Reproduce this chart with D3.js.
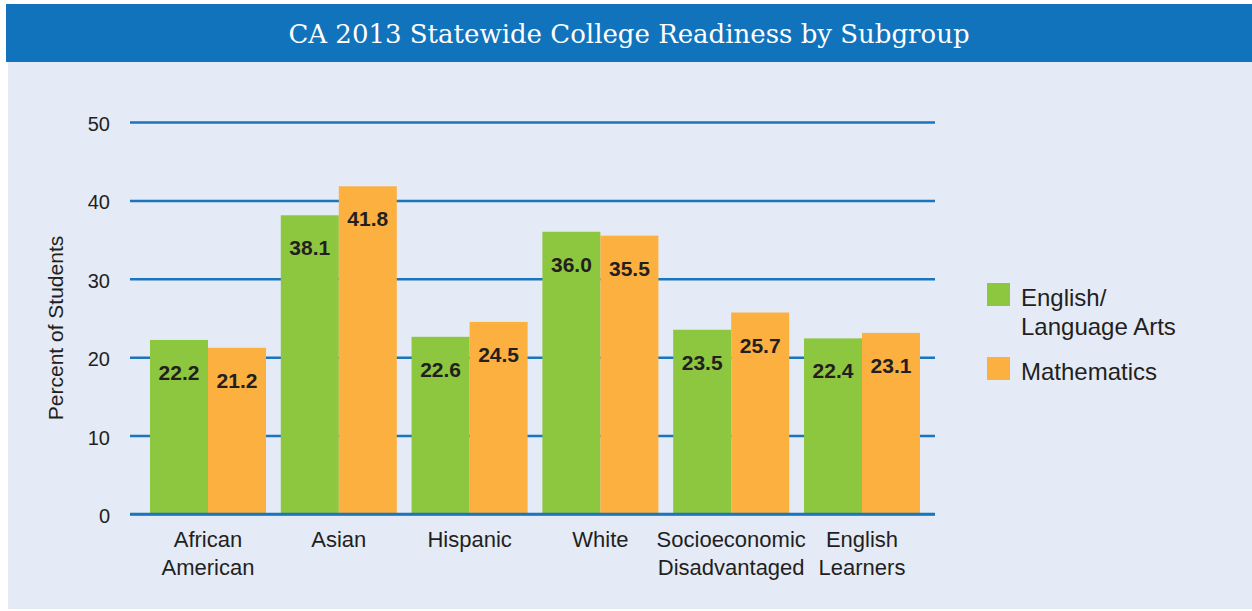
<!DOCTYPE html>
<html>
<head>
<meta charset="utf-8">
<script src="https://cdn.jsdelivr.net/npm/d3@7"></script>
<style>
  body { margin: 0; background: #fff; }
  svg text { font-family: "Liberation Sans", Arial, Helvetica, sans-serif; fill: #231f20; }
</style>
</head>
<body>
<div id="chart"></div>
<script>
// chart data
var categories = [["African", "American"], ["Asian"], ["Hispanic"], ["White"], ["Socioeconomic", "Disadvantaged"], ["English", "Learners"]];
var series = ["English/Language Arts", "Mathematics"];
var elaValues = [22.2, 38.1, 22.6, 36.0, 23.5, 22.4];
var mathValues = [21.2, 41.8, 24.5, 35.5, 25.7, 23.1];
var yTicks = [0, 10, 20, 30, 40, 50];
var legendLabels = [["English/", "Language Arts"], ["Mathematics"]];
var colors = ["#8dc63f", "#fbb040"];

var W = 1252, H = 611;
var svg = d3.select("#chart").append("svg")
    .attr("width", W)
    .attr("height", H);

// panel + header band
svg.append("rect").attr("x", 8).attr("y", 62).attr("width", W - 8).attr("height", 547).style("fill", "#e4eaf6");
svg.append("rect").attr("x", 6).attr("y", 4).attr("width", W - 6).attr("height", 58).style("fill", "#1173bb");
svg.append("text")
    .attr("x", 629)
    .attr("y", 43)
    .style("text-anchor", "middle")
    .style("font-family", "'DejaVu Serif', serif")
    .style("font-size", "26px")
    .style("fill", "#fff")
    .text("CA 2013 Statewide College Readiness by Subgroup");

var keys = categories.map(function (c) { return c.join(" "); });
var yScale = d3.scaleLinear().domain([0, 50]).range([514, 122]);
var x0 = d3.scaleBand().domain(keys).range([142.6, 927.4]).paddingInner(0.113).paddingOuter(0.0565);
var x1 = d3.scaleBand().domain([0, 1]).range([0, x0.bandwidth()]);

// gridlines
var yAxis = svg.append("g")
    .attr("class", "axis axis-y")
    .attr("transform", "translate(130,0)")
    .call(d3.axisLeft(yScale).tickValues(yTicks).tickSize(-805).tickPadding(20).tickFormat(d3.format("d")));
yAxis.select(".domain").remove();
yAxis.selectAll(".tick line").style("stroke", "#1a75bc").style("stroke-width", 2.5);
yAxis.selectAll(".tick text")
    .attr("dy", "0.42em")
    .style("font-size", "20px")
    .style("font-family", "'Liberation Sans', Arial, sans-serif")
    .style("fill", "#231f20");

svg.append("text")
    .attr("transform", "translate(63,328) rotate(-90)")
    .style("text-anchor", "middle")
    .style("font-size", "21px")
    .text("Percent of Students");

// bars
var groups = svg.selectAll(".group")
    .data(keys)
    .enter().append("g")
    .attr("class", "group")
    .attr("transform", function (d) { return "translate(" + x0(d) + ",0)"; });

groups.each(function (k, i) {
    var g = d3.select(this);
    [elaValues[i], mathValues[i]].forEach(function (v, s) {
        g.append("rect")
            .attr("x", x1(s))
            .attr("width", x1.bandwidth())
            .attr("y", yScale(v))
            .attr("height", yScale(0) - yScale(v))
            .style("fill", colors[s]);
        g.append("text")
            .attr("x", x1(s) + x1.bandwidth() / 2)
            .attr("y", yScale(v) + 40)
            .style("text-anchor", "middle")
            .style("font-weight", "bold")
            .style("font-size", "21px")
            .text(d3.format(".1f")(v));
    });
});

// baseline drawn over bars
svg.append("line")
    .attr("x1", 130).attr("x2", 935)
    .attr("y1", yScale(0)).attr("y2", yScale(0))
    .style("stroke", "#1a75bc").style("stroke-width", 2.5);

// x labels
categories.forEach(function (c, i) {
    var t = svg.append("text")
        .attr("x", x0(keys[i]) + x0.bandwidth() / 2)
        .attr("y", 547)
        .style("text-anchor", "middle")
        .style("font-size", "22px");
    c.forEach(function (line, j) {
        t.append("tspan")
            .attr("x", x0(keys[i]) + x0.bandwidth() / 2)
            .attr("dy", j === 0 ? 0 : 28)
            .text(line);
    });
});

// legend
var legendY = [283, 357];
legendLabels.forEach(function (lines, s) {
    svg.append("rect")
        .attr("x", 987).attr("y", legendY[s])
        .attr("width", 23).attr("height", 23)
        .style("fill", colors[s]);
    var t = svg.append("text")
        .attr("x", 1021)
        .attr("y", legendY[s] + 23)
        .style("font-size", "24px");
    lines.forEach(function (line, j) {
        t.append("tspan").attr("x", 1021).attr("dy", j === 0 ? 0 : 29).text(line);
    });
});
</script>
</body>
</html>
